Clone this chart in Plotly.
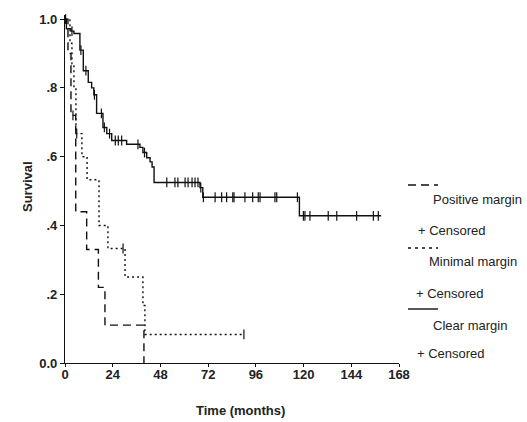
import plotly.graph_objects as go
import numpy as np

# ---------------- data ----------------
# Positive margin (dashed)
pos_t = [0, 1.5, 3.0, 5.4, 10.9, 16.8, 20.1, 39.7]
pos_s = [1.0, 0.90, 0.72, 0.44, 0.33, 0.22, 0.11, 0.0]
pos_cens = [4.0]
pos_end = 39.7

# Minimal margin (dotted)
min_t = [0, 2.5, 3.5, 4.5, 5.5, 8.5, 11.1, 17.1, 21.6, 30.2, 39.2, 40.2]
min_s = [1.0, 0.93, 0.87, 0.80, 0.667, 0.60, 0.533, 0.40, 0.333, 0.25, 0.167, 0.083]
min_cens = [5.9, 29.2, 90.0]
min_end = 90.0

# Clear margin (solid)
clr_t = [0, 0.7, 3.0, 4.5, 7.5, 9.2, 11.7, 13.4, 14.5, 15.9, 19.1, 21.0, 23.5,
         31.0, 37.7, 39.2, 41.1, 42.8, 43.8, 44.8, 67.9, 69.3, 117.9]
clr_s = [1.0, 0.972, 0.965, 0.958, 0.91, 0.85, 0.816, 0.80, 0.78, 0.726, 0.685,
         0.667, 0.647, 0.636, 0.627, 0.612, 0.597, 0.585, 0.57, 0.525, 0.51,
         0.482, 0.428]
clr_cens = [0.3, 3.5, 8.0, 10.5, 14.8, 18.3, 19.8, 22.4, 25.3, 26.8, 28.5, 36.7,
            40.0, 51.2, 55.3, 56.8, 60.4, 61.9, 63.9, 65.4, 66.9, 68.3, 69.6,
            75.5, 78.8, 81.3, 84.4, 85.0, 90.5, 94.4, 97.2, 98.1, 105.6, 106.5,
            116.9, 119.9, 120.7, 123.2, 132.4, 136.7, 146.7, 155.1, 157.6]
clr_end = 159.0

x_ticks = [0, 24, 48, 72, 96, 120, 144, 168]
y_ticks = [0.0, 0.2, 0.4, 0.6, 0.8, 1.0]
y_tick_text = ["0.0", ".2", ".4", ".6", ".8", "1.0"]

legend_names = ["Positive margin", "Minimal margin", "Clear margin"]
censor_label = "+ Censored"

# ---------------- figure ----------------
INK = "#111111"
fig = go.Figure()


def surv_at(times, surv, t):
    idx = np.searchsorted(np.array(times), t, side="right") - 1
    return surv[max(idx, 0)]


series = [
    (pos_t, pos_s, pos_cens, pos_end, "8px,5px"),
    (min_t, min_s, min_cens, min_end, "2px,3px"),
    (clr_t, clr_s, clr_cens, clr_end, "solid"),
]

for (tt, ss, cens, end, dash) in series:
    xs = list(tt)
    ys = list(ss)
    if end > xs[-1]:
        xs.append(end)
        ys.append(ys[-1])
    fig.add_trace(go.Scatter(
        x=xs, y=ys, mode="lines", line=dict(color=INK, width=1.4, dash=dash, shape="hv"),
        showlegend=False, hoverinfo="skip", cliponaxis=False))
    cy = [surv_at(tt, ss, c) for c in cens]
    fig.add_trace(go.Scatter(
        x=cens, y=cy, mode="markers",
        marker=dict(symbol="line-ns", size=7, line=dict(color=INK, width=1.2)),
        showlegend=False, hoverinfo="skip", cliponaxis=False))

# ---------------- custom legend ----------------
L = 65
R = 399
T = 15
B = 363
W = R - L
H = B - T


def px(x):
    return (x - L) / W


def py(y):
    return (B - y) / H


shapes = []
annotations = []
legend_rows = [
    (185, "8px,5px", 200, 431, 230, 416),
    (248, "3px,4px", 261, 427, 293, 414),
    (309, "solid", 325, 431, 353, 415),
]
for name, (ly, dash, ty, tx, cyy, cx) in zip(legend_names, legend_rows):
    shapes.append(dict(type="line", xref="paper", yref="paper",
                       x0=px(408), x1=px(438), y0=py(ly), y1=py(ly),
                       line=dict(color=INK, width=1.4, dash=dash)))
    annotations.append(dict(text=name, xref="paper", yref="paper", x=px(tx), y=py(ty),
                            xanchor="left", yanchor="middle", showarrow=False,
                            font=dict(family="Liberation Sans, Arial", size=13, color="#222")))
    annotations.append(dict(text=censor_label, xref="paper", yref="paper", x=px(cx), y=py(cyy),
                            xanchor="left", yanchor="middle", showarrow=False,
                            font=dict(family="Liberation Sans, Arial", size=13, color="#222")))

annotations.append(dict(text="<b>Survival</b>", xref="paper", yref="paper",
                        x=px(28), y=py(187), textangle=-90, showarrow=False,
                        xanchor="center", yanchor="middle",
                        font=dict(family="Liberation Sans, Arial", size=13, color="#222")))
annotations.append(dict(text="<b>Time (months)</b>", xref="paper", yref="paper",
                        x=px(240), y=py(410), showarrow=False,
                        xanchor="center", yanchor="middle",
                        font=dict(family="Liberation Sans, Arial", size=13, color="#222")))

fig.update_layout(
    width=527, height=422,
    margin=dict(l=L, r=527 - R, t=T, b=422 - B, pad=0),
    paper_bgcolor="white", plot_bgcolor="white",
    shapes=shapes, annotations=annotations,
    showlegend=False,
)
fig.update_xaxes(
    range=[0, 168], tickvals=x_ticks, ticktext=[str(v) for v in x_ticks],
    showgrid=False, zeroline=False, showline=True, linecolor=INK, linewidth=1.3,
    ticks="outside", ticklen=3, tickwidth=1.2, tickcolor=INK, ticklabelstandoff=-4,
    tickfont=dict(family="Liberation Sans, Arial", size=13, color="#222", weight="bold"),
)
fig.update_yaxes(
    range=[0, 1.012], tickvals=y_ticks, ticktext=y_tick_text,
    showgrid=False, zeroline=False, showline=True, linecolor=INK, linewidth=1.3,
    ticks="outside", ticklen=4, tickwidth=1.2, tickcolor=INK,
    tickfont=dict(family="Liberation Sans, Arial", size=13, color="#222", weight="bold"),
)

fig.write_html("out.html")
